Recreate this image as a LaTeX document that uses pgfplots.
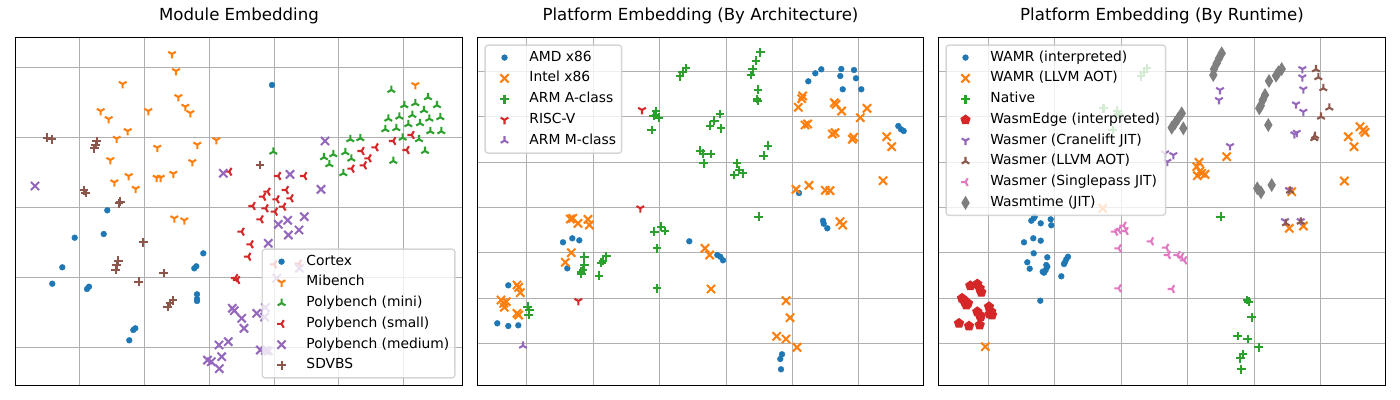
\documentclass[border=0pt]{standalone}
\usepackage{fontspec}
\setmainfont{DejaVu Sans}
\usepackage{pgfplots}
\pgfplotsset{compat=1.18}
\usetikzlibrary{plotmarks}
\definecolor{c0}{HTML}{1F77B4}
\definecolor{c1}{HTML}{FF7F0E}
\definecolor{c2}{HTML}{2CA02C}
\definecolor{c3}{HTML}{D62728}
\definecolor{c4}{HTML}{9467BD}
\definecolor{c5}{HTML}{8C564B}
\definecolor{c6}{HTML}{E377C2}
\definecolor{c7}{HTML}{7F7F7F}
\definecolor{gridc}{HTML}{B0B0B0}
\definecolor{legc}{HTML}{CCCCCC}

\pgfdeclareplotmark{tridown}{%
 \pgfpathmoveto{\pgfpointorigin}\pgfpathlineto{\pgfpointpolar{270}{\pgfplotmarksize}}%
 \pgfpathmoveto{\pgfpointorigin}\pgfpathlineto{\pgfpointpolar{30}{\pgfplotmarksize}}%
 \pgfpathmoveto{\pgfpointorigin}\pgfpathlineto{\pgfpointpolar{150}{\pgfplotmarksize}}%
 \pgfusepathqstroke}
\pgfdeclareplotmark{triup}{%
 \pgfpathmoveto{\pgfpointorigin}\pgfpathlineto{\pgfpointpolar{90}{\pgfplotmarksize}}%
 \pgfpathmoveto{\pgfpointorigin}\pgfpathlineto{\pgfpointpolar{210}{\pgfplotmarksize}}%
 \pgfpathmoveto{\pgfpointorigin}\pgfpathlineto{\pgfpointpolar{330}{\pgfplotmarksize}}%
 \pgfusepathqstroke}
\pgfdeclareplotmark{trileft}{%
 \pgfpathmoveto{\pgfpointorigin}\pgfpathlineto{\pgfpointpolar{180}{\pgfplotmarksize}}%
 \pgfpathmoveto{\pgfpointorigin}\pgfpathlineto{\pgfpointpolar{60}{\pgfplotmarksize}}%
 \pgfpathmoveto{\pgfpointorigin}\pgfpathlineto{\pgfpointpolar{300}{\pgfplotmarksize}}%
 \pgfusepathqstroke}
\pgfdeclareplotmark{thindiamond}{%
 \pgfpathmoveto{\pgfqpoint{0pt}{\pgfplotmarksize}}%
 \pgfpathlineto{\pgfqpoint{0.6\pgfplotmarksize}{0pt}}%
 \pgfpathlineto{\pgfqpoint{0pt}{-\pgfplotmarksize}}%
 \pgfpathlineto{\pgfqpoint{-0.6\pgfplotmarksize}{0pt}}%
 \pgfpathclose\pgfusepathqfillstroke}

\pgfplotsset{
 panel/.style={
   scale only axis, width=321.84bp, height=250.56bp,
   y dir=reverse, ymin=37.5, ymax=385.5,
   xticklabels={}, yticklabels={},
   major tick length=0pt,
   xmajorgrids, ymajorgrids,
   grid style={draw=gridc, line width=0.8bp},
   axis line style={line width=0.8bp},
   title style={font=\fontsize{12}{14.4}\selectfont, anchor=base, at={(0.5,1)}, yshift=6bp},
   legend cell align=left,
   legend style={font=\fontsize{10}{12}\selectfont, draw=legc, line width=1pt,
     rounded corners=2pt, fill=white, fill opacity=0.8, draw opacity=0.8, text opacity=1,
     inner xsep=4pt, inner ysep=4pt, row sep=5pt, column sep=0pt,
     nodes={inner sep=0pt, text height=7.5pt, text depth=2.5pt}},
   legend image code/.code={\path[draw=none,fill=none] (0pt,0pt) -- (28pt,0pt);
     \draw[mark repeat=1,#1,fill opacity=1,draw opacity=1] plot coordinates {(10pt,0pt)};},
 },
 dots/.style={only marks, mark=*, mark size=2.1pt, line width=0.3pt, sharp corners, color=#1},
 um/.style 2 args={only marks, mark=#2, mark size=3.2pt, line width=1.5pt, sharp corners, color=#1},
 xm/.style={only marks, mark=x, mark size=4.2pt, line width=1.5pt, sharp corners, color=#1},
 fm/.style n args={3}{only marks, mark=#2, mark size=#3, line width=0.8pt, sharp corners, color=#1},
}

\begin{document}
\begin{tikzpicture}
\path[use as bounding box] (0,0) rectangle (1008bp,-288bp);

% ---------------- Panel 1 ----------------
\begin{axis}[panel, at={(172.08bp,-152.28bp)}, anchor=center,
  xmin=15.5, xmax=462.5,
  xtick={79.5,144.5,209.5,274.5,338.5,403.5},
  ytick={67.5,137.5,207.5,277.5,347.5},
  title={Module Embedding},
  legend style={at={(1,0)}, anchor=south east, xshift=-5bp, yshift=5bp}]
\addplot[dots=c0] coordinates {(272.0,85.0) (107.3,210.3) (74.7,237.7) (103.7,234.0) (62.3,267.3) (52.3,283.7) (87.0,289.0) (89.0,286.7) (203.3,253.3) (194.3,268.3) (196.3,266.3) (197.0,294.3) (197.0,299.0) (197.0,301.0) (133.3,330.0) (135.3,328.3) (129.3,340.3)};
\addlegendentry{Cortex}
\addplot[um={c1}{tridown}] coordinates {(172,54) (176,71) (122.7,84) (178.3,97) (100.7,111) (108.7,119) (148.3,111) (185.3,106.7) (190.3,113) (127.7,131) (116.7,138.7) (216.3,140) (197.3,144.7) (157.3,147.7) (110.3,160) (192.3,162) (128.7,176) (156.7,177.7) (160.7,177.7) (173.3,173.7) (114.3,182.3) (135.7,188.7) (174.3,218.3) (184.3,220.3) (415.3,85)};
\addlegendentry{Mibench}
\addplot[um={c2}{triup}] coordinates {(273.3,151.7) (391.3,90) (428,97.3) (415.3,103.3) (404.3,105.3) (437,105.3) (424,110.3) (412.3,115) (399.3,116.7) (388.3,118.7) (429.3,118.7) (440.3,117.3) (420,123.3) (408.3,124.3) (385.3,129.3) (396.3,128.3) (430.3,131.3) (441.3,131.3) (402.7,137.7) (419,139.3) (350.3,139.3) (360.3,138.3) (425,151) (345.3,152.3) (333.3,154.3) (324,157.3) (351.3,158.7) (393.3,161) (329.3,164.3) (343.3,173.3)};
\addlegendentry{Polybench (mini)}
\addplot[um={c3}{trileft}] coordinates {(411.7,135) (393.3,141) (406.7,150) (375.7,147.3) (361.7,151) (368.7,158.3) (364,165.3) (351.7,168.7) (229.3,171.7) (278.3,176) (304.3,176) (267.7,191.7) (286,190) (263.3,196.7) (276.7,199.3) (290.7,198.3) (252.7,206) (265.7,208.3) (283.3,206.7) (275,211.7) (260.7,219.3) (241.7,231.7) (250.7,244.3) (248.3,256.7) (235.3,278) (237.3,280) (274.3,264.3) (299,263.7)};
\addlegendentry{Polybench (small)}
\addplot[xm=c4] coordinates {(35,186) (223.3,173.3) (290,174.3) (325,141) (321,189.3) (304.3,216.7) (287.7,220.3) (278.3,224.3) (299,230) (288.3,235) (268.3,243.3) (299.3,268.3) (276.7,278.3) (232.3,308.3) (234.3,310.7) (241.7,318.3) (244,328.3) (256.7,313.3) (265.3,307.5) (264.7,317) (219,345) (228.3,341.7) (221.7,356.7) (207.5,360.2) (211.3,361.7) (219.3,368.7) (260.3,350) (265.3,350.5) (268.3,351)};
\addlegendentry{Polybench (medium)}
\addplot[um={c5}{+}] coordinates {(47.3,137.7) (51.7,139.3) (96.7,141) (95.7,145) (94.3,148.3) (260,165) (84,190.3) (85.7,193) (120.3,201.7) (119,203.3) (143.3,242.3) (118.3,260.7) (116.7,265) (115.7,269.7) (163.7,273) (138.7,281.7) (173,300.3) (170,303.3) (167.7,306.7)};
\addlegendentry{SDVBS}
\end{axis}

% ---------------- Panel 2 ----------------
\begin{axis}[panel, at={(504.36bp,-152.28bp)}, anchor=center, width=321.12bp,
  xmin=477.5, xmax=923.5,
  xtick={526.5,593.5,659.5,726.5,792.5,858.5},
  ytick={71.5,116.5,162.5,207.5,252.5,298.5,343.5},
  title={Platform Embedding (By Architecture)},
  legend style={at={(0,1)}, anchor=north west, xshift=5bp, yshift=-5bp}]
\addplot[dots=c0] coordinates {(808.3,81.3) (815.3,73.3) (821.3,69.3) (841.3,69) (840.3,76) (854,70) (856,78.3) (842.7,89.3) (861.3,89.3) (898.3,126) (901,129.3) (903.7,131) (799,193) (823,220.7) (823.7,223.7) (827.3,228.3) (689.3,241.3) (717.3,255) (720.3,256.7) (723,260.3) (780.3,359) (782,354.3) (781,369.3) (563,242.3) (572.3,238.3) (579.3,240.3) (567.3,268.3) (508.3,285.3) (497.3,323.3) (508.3,326) (518.3,325.3)};
\addlegendentry{AMD x86}
\addplot[xm=c1] coordinates {(802.7,96) (801.7,98.7) (798.3,107.3) (834.3,102.7) (836,104.3) (841.7,111) (867,108.3) (860.3,117.7) (805,125) (807.7,124) (832.3,134) (835,132.7) (852.3,139.3) (853.7,137.3) (886.7,136.7) (891.7,146.7) (796,189.3) (809,185.3) (825.3,190.3) (830,190.7) (883,180.7) (840,221.7) (842.7,225) (705,248.3) (709.7,255) (711,289) (786,300.7) (790,317.7) (776.7,336.3) (786,339) (797,347.3) (570.3,219) (572.7,218.3) (578,223.3) (588,219.3) (589.3,225) (571.3,252.7) (565.3,262.3) (517,285) (518.7,287.3) (520.3,292.7) (501,300) (503.7,303.3) (506.3,301.7) (504.3,307.3) (517,313.3) (518.7,315)};
\addlegendentry{Intel x86}
\addplot[um={c2}{+}] coordinates {(760.3,52.3) (756,60.7) (752.7,69.3) (751,75) (758,89.7) (757,99) (757.7,101) (686,68.3) (682.7,72.3) (680,76.3) (656,111) (653.7,116) (658.7,117.7) (656,115) (651.7,130) (720,114) (714.3,120.7) (710,125.7) (721,128.3) (700.3,150.7) (703.3,153.7) (711,154) (703.7,163.3) (768,145.7) (763.7,155.7) (737,163.3) (739.3,170) (734.3,175) (742.7,173.3) (758.7,216.7) (654.3,231.7) (661,226.7) (665,231) (657,248.3) (657,288.3) (584.3,256.7) (584.3,265) (583,270) (581,271.7) (581.3,274) (606.3,256) (603,260.7) (601.3,262.7) (599,275.7) (527.7,306.7) (529.3,310) (528.7,315)};
\addlegendentry{ARM A-class}
\addplot[um={c3}{tridown}] coordinates {(642,110) (640.3,208.3) (578.3,301)};
\addlegendentry{RISC-V}
\addplot[um={c4}{triup}] coordinates {(523,345.7)};
\addlegendentry{ARM M-class}
\end{axis}

% ---------------- Panel 3 ----------------
\begin{axis}[panel, at={(836.64bp,-152.28bp)}, anchor=center,
  xmin=938.5, xmax=1385.5,
  xtick={988.5,1054.5,1121.5,1187.5,1254.5,1320.5},
  ytick={71.5,116.5,162.5,207.5,252.5,298.5,343.5},
  title={Platform Embedding (By Runtime)},
  legend style={at={(0,1)}, anchor=north west, xshift=5bp, yshift=-5bp}]
\addplot[dots=c0] coordinates {(1031.3,220.7) (1033.7,218.3) (1034.7,216.7) (1040.7,223.3) (1050.7,219.3) (1051.3,225.3) (1024,242.3) (1033.3,238.3) (1040.7,240.7) (1033.7,253.3) (1027.3,262.3) (1029.7,268.7) (1047.3,257.3) (1046.3,265) (1047.3,266.7) (1045.7,270) (1044,272.7) (1042.7,271.7) (1068,256.7) (1066.3,259.3) (1064.7,262.7) (1064,264) (1061.3,276.3) (1040.3,300.7)};
\addlegendentry{WAMR (interpreted)}
\addplot[xm=c1] coordinates {(1226.7,156.7) (1199,162.3) (1196.7,166.7) (1200,171) (1205,174.3) (1197.3,175.7) (1201.7,173.3) (1291.7,191.7) (1289.3,228.3) (1303.3,226) (1348.3,136.7) (1360,126.7) (1363.3,130) (1365,132.3) (1354,146.7) (1344.3,181) (1102.7,208.3) (985.3,346.7)};
\addlegendentry{WAMR (LLVM AOT)}
\addplot[um={c2}{+}] coordinates {(1147,68.3) (1143.7,72.3) (1141,76.3) (1103.5,108.3) (1117.2,110.8) (1118.5,114.5) (1112.7,130) (1220.7,216.7) (1247,300) (1248.7,301.7) (1251.7,317.3) (1237.7,336) (1247.7,339) (1258.7,347.3) (1243,354) (1240.3,358.3) (1241.3,369.3)};
\addlegendentry{Native}
\addplot[fm={c3}{pentagon*}{3.4pt}] coordinates {(970.3,285.7) (977.3,284) (979.7,288.3) (981.3,292.3) (962,298.3) (964.7,301.7) (966.3,305) (968,303.3) (964,300) (977.3,311.7) (979.7,315) (980.7,316.7) (989,306.7) (991.3,311.7) (992,315) (989.7,314) (959,323.3) (969,326) (979.7,325)};
\addlegendentry{WasmEdge (interpreted)}
\addplot[um={c4}{tridown}] coordinates {(1302.3,69) (1302.3,77.3) (1303.3,89.3) (1296,104.3) (1303.3,111.7) (1294.3,134.3) (1296.7,132.7) (1220,90) (1219,100) (1230,146) (1173.3,155) (1165,153.3) (1167.3,161.7) (1289,190) (1285,221) (1300.7,221)};
\addlegendentry{Wasmer (Cranelift JIT)}
\addplot[um={c5}{triup}] coordinates {(1316,69.3) (1318.3,77.3) (1323.3,88.3) (1329.3,107.7) (1321,116.7) (1314.3,138.3) (1315,136) (1290,190.7) (1286,223.3) (1300.7,221.7)};
\addlegendentry{Wasmer (LLVM AOT)}
\addplot[um={c6}{trileft}] coordinates {(1123.7,225.7) (1118.7,230) (1125.7,231) (1115.3,231.7) (1118.7,248.3) (1151,241.3) (1166.3,247.7) (1168,255) (1177.7,255) (1181.3,256.7) (1184.3,260.3) (1118.7,288.3) (1172,289)};
\addlegendentry{Wasmer (Singlepass JIT)}
\addplot[fm={c7}{thindiamond}{4.3pt}] coordinates {(1221.7,53.3) (1219,58.3) (1216.7,63.3) (1214,69) (1213.3,75) (1181.7,113.3) (1178.3,118.3) (1175,123.3) (1171.7,127.7) (1183.3,128.3) (1281.7,69) (1278.3,72.3) (1276,75.7) (1269,81) (1265,95) (1262.7,100) (1260.7,105.7) (1259.3,108.3) (1268.3,125) (1257.3,188.3) (1261,192.3) (1271.7,185)};
\addlegendentry{Wasmtime (JIT)}
\end{axis}
\end{tikzpicture}
\end{document}
